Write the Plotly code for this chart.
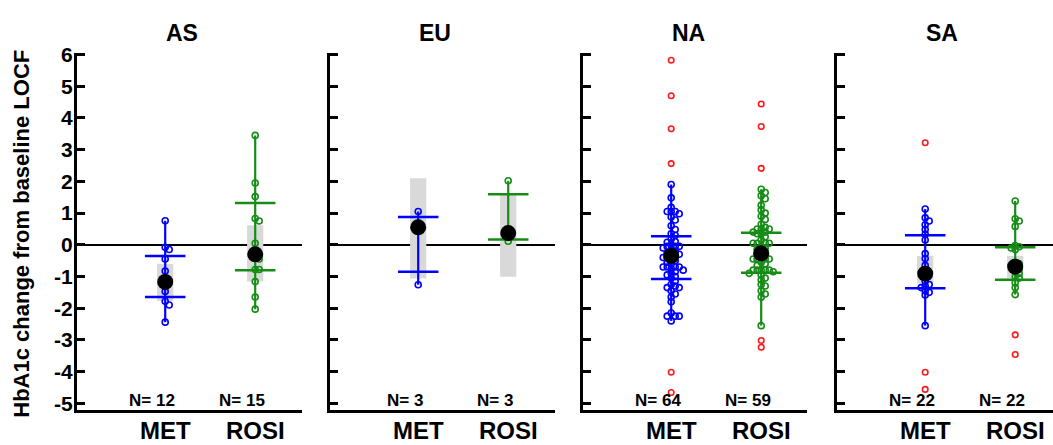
import plotly.graph_objects as go

# ---------------- data ----------------
regions = ["AS", "EU", "NA", "SA"]
arms = ["MET", "ROSI"]
n_met = [12, 3, 64, 22]
n_rosi = [15, 3, 59, 22]

as_met = [0.76, -0.08, -0.15, -0.45, -0.83, -1.05, -1.15, -1.25, -1.47, -1.78, -1.90, -2.44]
as_rosi = [3.45, 1.95, 1.52, 0.83, 0.75, 0.05, -0.25, -0.30, -0.38, -0.45, -0.78, -0.78, -1.16, -1.65, -2.03]
eu_met = [1.05, 0.55, -1.26]
eu_rosi = [2.02, 0.35, 0.11]
na_met = [1.90, 1.48, 1.18, 1.05, 1.05, 1.05, 0.98, 0.88, 0.78, 0.60, 0.48, 0.35, 0.30, 0.18,
          0.10, 0.08, 0.00, -0.05, -0.05, -0.05, -0.10, -0.15, -0.20, -0.25, -0.30, -0.30, -0.35,
          -0.40, -0.40, -0.45, -0.50, -0.55, -0.60, -0.70, -0.70, -0.70, -0.70, -0.75, -0.80,
          -0.85, -0.90, -0.95, -1.00, -1.05, -1.15, -1.25, -1.30, -1.35, -1.35, -1.45, -1.55,
          -1.65, -1.80, -2.15, -2.25, -2.25, -2.25, -2.40]
na_rosi = [1.75, 1.65, 1.55, 1.45, 1.25, 1.10, 1.00, 0.90, 0.80, 0.65, 0.55, 0.50, 0.50, 0.50,
           0.40, 0.40, 0.35, 0.35, 0.25, 0.15, 0.05, 0.05, 0.05, 0.05, -0.05, -0.10, -0.15, -0.20,
           -0.25, -0.30, -0.35, -0.45, -0.45, -0.45, -0.45, -0.55, -0.60, -0.65, -0.80, -0.80,
           -0.80, -0.80, -0.80, -0.85, -0.90, -0.95, -1.05, -1.10, -1.25, -1.30, -1.45, -1.55,
           -1.65, -2.55]
sa_met = [1.13, 0.85, 0.75, 0.63, 0.48, 0.33, 0.15, -0.28, -0.43, -0.65, -0.90, -1.15, -1.25,
          -1.30, -1.35, -1.45, -1.50, -1.58, -2.55]
sa_rosi = [1.38, 0.82, 0.75, 0.58, -0.02, -0.06, -0.10, -0.15, -0.60, -0.65, -0.70, -0.75,
           -0.85, -0.90, -1.00, -1.05, -1.20, -1.35, -1.57, -0.55]

met_outliers = [[], [], [5.82, 4.70, 3.66, 2.56, -4.02, -4.66], [3.22, -4.02, -4.56]]
rosi_outliers = [[], [], [4.44, 3.73, 2.41, -3.02, -3.23], [-2.84, -3.46]]

mean_met = [-1.17, 0.55, -0.35, -0.91]
mean_rosi = [-0.30, 0.37, -0.27, -0.69]
box_lo_met = [-1.77, -1.06, -0.62, -1.22]
box_hi_met = [-0.60, 2.10, -0.08, -0.35]
box_lo_rosi = [-1.16, -1.01, -0.52, -1.06]
box_hi_rosi = [0.62, 1.59, -0.02, -0.35]
bar_lo_met = [-1.65, -0.85, -1.08, -1.37]
bar_hi_met = [-0.35, 0.88, 0.27, 0.30]
bar_lo_rosi = [-0.80, 0.17, -0.88, -1.10]
bar_hi_rosi = [1.32, 1.59, 0.38, -0.08]

y_ticks = list(range(-5, 7))
y_tick_text = [str(v) for v in y_ticks]
y_title = "HbA1c change from baseline LOCF"

met_points = [as_met, eu_met, na_met, sa_met]
rosi_points = [as_rosi, eu_rosi, na_rosi, sa_rosi]

# ---------------- layout geometry ----------------
W, H = 1053, 445
x_px = [(77, 302), (330, 555), (583, 807), (837, 1053)]
PX_X = 90.0
X0 = 0.02
y_range = [-5.21, 6.06]
y_dom = [1 - 413 / H, 1 - 44 / H]
PX_Y = (413 - 44) / (y_range[1] - y_range[0])

BLUE = "#0000ff"
GREEN = "#168c16"
RED = "#ff1a1a"
GRAY = "#d9d9d9"
FONT = "Liberation Sans, Arial, sans-serif"


def swarm(vals, center, d=4.0):
    placed = []
    xs = []
    cands = [0.0]
    for k in range(1, 12):
        cands += [k * d, -k * d]
    for v in vals:
        yp = v * PX_Y
        chosen = 0.0
        for off in cands:
            if all((off - ox) ** 2 + (yp - oy) ** 2 >= d * d for ox, oy in placed):
                chosen = off
                break
        placed.append((chosen, yp))
        xs.append(center + chosen / PX_X)
    return xs


fig = go.Figure()
annotations = []

for i in range(4):
    ax = "" if i == 0 else str(i + 1)
    xa, ya = "x" + ax, "y" + ax
    groups = [
        (1, met_points[i], met_outliers[i], mean_met[i], box_lo_met[i], box_hi_met[i],
         bar_lo_met[i], bar_hi_met[i], BLUE, n_met[i]),
        (2, rosi_points[i], rosi_outliers[i], mean_rosi[i], box_lo_rosi[i], box_hi_rosi[i],
         bar_lo_rosi[i], bar_hi_rosi[i], GREEN, n_rosi[i]),
    ]
    for (cx, pts, outs, mn, blo, bhi, slo, shi, col, n) in groups:
        fig.add_trace(go.Bar(x=[cx], y=[bhi - blo], base=[blo], width=0.18,
                             marker=dict(color=GRAY, line=dict(width=0)),
                             xaxis=xa, yaxis=ya, showlegend=False, hoverinfo="skip"))
        fig.add_trace(go.Scatter(x=[cx, cx], y=[min(pts), max(pts)], mode="lines",
                                 line=dict(color=col, width=2.2),
                                 xaxis=xa, yaxis=ya, showlegend=False, hoverinfo="skip"))
        srt = sorted(pts, reverse=True)
        fig.add_trace(go.Scatter(x=swarm(srt, cx), y=srt, mode="markers",
                                 marker=dict(symbol="circle-open", size=6, color=col,
                                             line=dict(width=1.6, color=col)),
                                 xaxis=xa, yaxis=ya, showlegend=False))
        if outs:
            fig.add_trace(go.Scatter(x=[cx] * len(outs), y=outs, mode="markers",
                                     marker=dict(symbol="circle-open", size=5.5, color=RED,
                                                 line=dict(width=1.6, color=RED)),
                                     xaxis=xa, yaxis=ya, showlegend=False))
        for yv in (slo, shi):
            fig.add_trace(go.Scatter(x=[cx - 0.225, cx + 0.225], y=[yv, yv], mode="lines",
                                     line=dict(color=col, width=2.5),
                                     xaxis=xa, yaxis=ya, showlegend=False, hoverinfo="skip"))
        fig.add_trace(go.Scatter(x=[cx], y=[mn], mode="markers",
                                 marker=dict(symbol="circle", size=16, color="black"),
                                 xaxis=xa, yaxis=ya, showlegend=False))
        annotations.append(dict(x=cx - 0.15, y=-4.91, xref=xa, yref=ya, text=f"N= {n}",
                                showarrow=False, xanchor="center", yanchor="middle",
                                font=dict(family=FONT, size=17, color="black", weight="bold")))
        annotations.append(dict(x=cx, y=1 - 434 / H, xref=xa, yref="paper", text=arms[cx - 1],
                                showarrow=False, xanchor="center", yanchor="middle",
                                font=dict(family=FONT, size=24, color="black", weight="bold")))
    annotations.append(dict(x=1.19, y=1 - 23.5 / H, xref=xa, yref="paper", text=regions[i],
                            showarrow=False, xanchor="center", yanchor="middle",
                            font=dict(family=FONT, size=23, color="black", weight="bold")))

    x0p, x1p = x_px[i]
    xr = [X0, X0 + (x1p - x0p) / PX_X]
    fig.update_layout(**{
        "xaxis" + ax: dict(domain=[x0p / W, x1p / W], range=xr, anchor=ya,
                           showline=True, linecolor="black", linewidth=3,
                           showticklabels=False, ticks="", showgrid=False, zeroline=False,
                           fixedrange=True),
        "yaxis" + ax: dict(domain=y_dom, range=y_range, anchor=xa,
                           showline=True, linecolor="black", linewidth=3,
                           ticks="inside", ticklen=8, tickwidth=2.5, tickcolor="black",
                           tickvals=y_ticks, ticktext=y_tick_text,
                           showticklabels=(i == 0), ticklabelstandoff=-3,
                           tickfont=dict(family=FONT, size=21, color="black", weight="bold"),
                           showgrid=False, zeroline=True, zerolinecolor="black",
                           zerolinewidth=2, layer="above traces", fixedrange=True),
    })

annotations.append(dict(x=22 / W, y=1 - 231 / H, xref="paper", yref="paper", text=y_title,
                        textangle=-90, showarrow=False, xanchor="center", yanchor="middle",
                        font=dict(family=FONT, size=22, color="black", weight="bold")))

fig.update_layout(width=W, height=H, margin=dict(l=0, r=0, t=0, b=0),
                  paper_bgcolor="white", plot_bgcolor="white", barmode="overlay",
                  annotations=annotations, showlegend=False)

fig.write_html("out.html")
